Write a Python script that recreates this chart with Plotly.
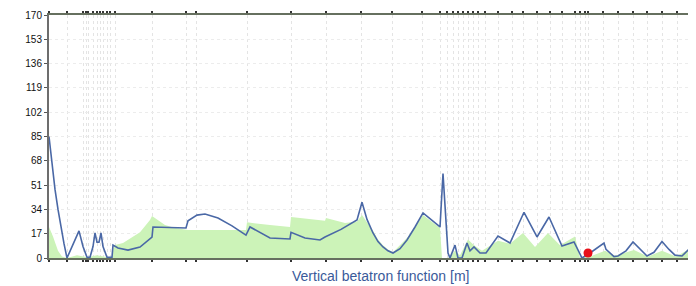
import plotly.graph_objects as go

# s positions (m) and vertical beta values (m)
beta_y_s = [0, 3, 6, 9, 12, 15, 18, 24, 30, 34, 38, 41, 44, 46, 48, 50, 52, 54, 58, 63, 64, 69, 79, 91, 99,
            103, 104, 137, 139, 148, 156, 169, 183, 197, 201, 221, 241, 242, 256, 271, 276, 292, 308, 313,
            318, 324, 329, 334, 339, 344, 351, 358, 366, 374, 391, 394, 399, 401, 406, 409, 413, 418, 421,
            425, 431, 437, 449, 461, 475, 488, 500, 513, 525, 533, 541, 555, 557, 565, 569, 577, 584, 591,
            598, 605, 613, 620, 626, 633, 647]
beta_y = [85, 64, 48, 34, 21, 10, 0, 9, 19, 8, 0.5, 0.5, 8, 17.5, 11, 11, 17.5, 8, 0.5, 0.5, 9, 7, 5.5, 7.7, 12.6,
          14.7, 21.7, 21, 26, 30, 30.8, 28, 22.5, 16, 21.7, 14, 13.3, 18, 14, 12.6, 14.7, 20, 26.6, 39,
          27, 17.5, 11.5, 7.7, 5, 3.5, 6.5, 12.6, 21.7, 31.5, 21.7, 59, 3.5, 0, 9, 0, 0, 10.5, 5,
          7.7, 3.5, 3.5, 15.4, 10.5, 32, 14.7, 28.7, 8.4, 11.2, 0, 3.5, 10.5, 6, 1, 1.4, 5, 11.2, 6,
          1.4, 4, 11.5, 6, 2, 1.4, 11]

# s positions and horizontal beta (green area)
beta_x_s = [0, 4, 9, 13, 18, 28, 38, 48, 58, 63, 65, 74, 91, 101, 103, 116, 126, 137, 139, 197, 198,
            221, 241, 242, 276, 277, 296, 308, 313, 318, 324, 329, 334, 339, 344, 358, 374, 391, 393,
            399, 406, 411, 419, 425, 433, 449, 461, 474, 486, 499, 511, 526, 531, 541, 556, 566, 585,
            599, 613, 627, 647]
beta_x = [21.7, 15, 5, 1, 0, 2, 0.5, 2, 0.5, 0.5, 9, 10.5, 18, 26.6, 29.4, 23, 21, 20, 19.6, 19.6, 25,
          23, 21.7, 28.7, 26, 28, 24.5, 25.5, 30, 25, 19, 13, 9, 6, 4, 14, 30, 21, 0,
          0, 5, 2, 13, 9, 5, 12, 10, 17.5, 7.7, 17.5, 9, 15, 0, 1, 5, 1.5, 5.6,
          1, 5, 1, 9]

# element positions (vertical grid / ticks)
elements = [0, 18, 34, 37, 39, 44, 48, 51, 54, 58, 61, 66, 103, 137, 147, 198, 242, 277, 312, 343,
            373, 391, 398, 404, 409, 414, 419, 424, 429, 436, 449, 463, 474, 488, 501, 513, 526,
            531, 536, 539, 554, 569, 584, 598, 613, 628]

y_ticks = [0, 17, 34, 51, 68, 85, 102, 119, 136, 153, 170]

marker_s = [539]
marker_v = [3.5]

fig = go.Figure()
fig.add_trace(go.Scatter(x=beta_x_s, y=beta_x, mode="lines", fill="tozeroy",
                         line=dict(width=0, color="rgba(0,0,0,0)"),
                         fillcolor="#ccf3b8", hoverinfo="skip", showlegend=False))
fig.add_trace(go.Scatter(x=beta_y_s, y=beta_y, mode="lines",
                         line=dict(width=1.6, color="#4a68a6"), showlegend=False))
fig.add_trace(go.Scatter(x=marker_s, y=marker_v, mode="markers",
                         marker=dict(size=9, color="#e8101a"), showlegend=False))

# page body has an 8px margin, so the figure is offset by 8px
fig.update_layout(
    width=688, height=278,
    margin=dict(l=41, r=0, t=7, b=28, autoexpand=False),
    paper_bgcolor="white", plot_bgcolor="white",
    font=dict(family="Liberation Sans, Arial", size=10, color="#111"),
)
fig.update_xaxes(range=[0, 647], tickvals=elements, showticklabels=False,
                 ticks="outside", ticklen=2, tickcolor="#333", tickwidth=2,
                 showgrid=True, gridcolor="#e4e4e4", griddash="dot", gridwidth=1,
                 showline=True, linecolor="#66705f", linewidth=2, mirror="allticks",
                 zeroline=False)
fig.update_yaxes(range=[0, 170], tickvals=y_ticks, ticks="outside", ticklen=3,
                 tickcolor="#555", showgrid=True, gridcolor="#ececec", griddash="dot",
                 showline=True, linecolor="#6d6d6d", linewidth=2, zeroline=False,
                 tickfont=dict(size=10, color="#111"))
fig.add_annotation(text="Vertical betatron function [m]", xref="paper", yref="paper",
                   x=(380 - 49) / 647, y=0, yshift=-18, yanchor="middle", showarrow=False,
                   font=dict(size=14, color="#3a5a9a", family="Liberation Sans, Arial"))

fig.write_html("out.html")
